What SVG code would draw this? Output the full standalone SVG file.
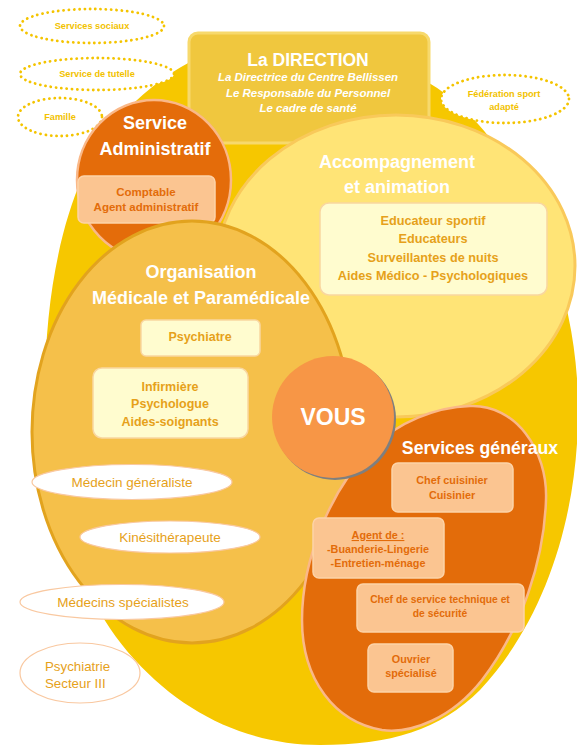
<svg xmlns="http://www.w3.org/2000/svg" width="577" height="745" viewBox="0 0 577 745">
<style>
text{font-family:"Liberation Sans",Arial,sans-serif}
.dot{fill:#fff;stroke:#F4C400;stroke-width:2.8;stroke-dasharray:0.1 5.2;stroke-linecap:round}
.dt{fill:#F2C200;font-weight:bold;font-size:9.2px;text-anchor:middle}
.wt{fill:#fff;font-weight:bold;text-anchor:middle}
.gold{fill:#E6A11A;font-weight:bold;text-anchor:middle}
.org{fill:#E36C0A;font-weight:bold;text-anchor:middle}
.cream{fill:#FFFCCF;stroke:#F9D6A0;stroke-width:1.5}
.peach{fill:#FBC591;stroke:#FDD3A8;stroke-width:1.5}
.wel{fill:#fff;stroke:#F9C8A0;stroke-width:1.2}
.wtxt{fill:#E6A11A;font-size:13.5px;text-anchor:middle}
.wtl{fill:#E6A11A;font-size:13.3px;text-anchor:start}
</style>
<rect width="577" height="745" fill="#fff"/>
<g id="fond"><path d="M300,48 C400,50 465,95 505,160 C555,240 580,330 578,420 C576,520 545,620 480,690 C440,730 390,745 320,745 C250,745 185,715 135,660 C75,595 45,490 45,390 C45,265 75,170 115,122 C140,95 165,75 190,62 C220,50 260,48 300,48 Z" fill="#F6C700"/></g>
<g id="services-sociaux"><ellipse class="dot" cx="92" cy="26" rx="72" ry="17"/><text class="dt" x="92" y="29">Services sociaux</text></g>
<g id="service-tutelle"><ellipse class="dot" cx="97" cy="74" rx="77" ry="16"/><text class="dt" x="97" y="77">Service de tutelle</text></g>
<g id="famille"><ellipse class="dot" cx="60" cy="117" rx="42" ry="19"/><text class="dt" x="60" y="120">Famille</text></g>
<g id="federation"><ellipse class="dot" cx="505" cy="99" rx="64" ry="24"/><text class="dt" x="504" y="97">Fédération sport</text><text class="dt" x="504" y="110">adapté</text></g>
<g id="direction">
<rect x="189" y="33" width="240" height="110" rx="9" fill="#F0C73E" stroke="#F7D96C" stroke-width="3"/>
<text class="wt" x="308" y="66" font-size="17.5">La DIRECTION</text>
<text class="wt" x="308" y="81" font-size="11.5" font-weight="normal" font-style="italic">La Directrice  du Centre  Bellissen</text>
<text class="wt" x="308" y="97" font-size="11.5" font-weight="normal" font-style="italic">Le Responsable du Personnel</text>
<text class="wt" x="308" y="112" font-size="11.5" font-weight="normal" font-style="italic">Le cadre de santé</text>
</g>
<g id="accompagnement">
<ellipse cx="396" cy="266" rx="179" ry="151" fill="#FFE476" stroke="#F9C95A" stroke-width="3"/>
<text class="wt" x="397" y="168" font-size="18">Accompagnement</text>
<text class="wt" x="397" y="193" font-size="18">et animation</text>
<rect class="cream" x="320" y="203" width="227" height="92" rx="9" fill="#FFF5C2"/>
<text class="gold" x="433" y="225" font-size="12.7">Educateur sportif</text>
<text class="gold" x="433" y="243" font-size="12.7">Educateurs</text>
<text class="gold" x="433" y="261.5" font-size="12.7">Surveillantes de nuits</text>
<text class="gold" x="433" y="280" font-size="12.7">Aides Médico - Psychologiques</text>
</g>
<g id="service-administratif">
<ellipse cx="154" cy="180" rx="77" ry="80" fill="#E46C0A" stroke="#FAB888" stroke-width="2.5"/>
<text class="wt" x="155" y="129" font-size="18">Service</text>
<text class="wt" x="155" y="155" font-size="18">Administratif</text>
<rect class="peach" x="78" y="176" width="137" height="47" rx="6"/>
<text class="org" x="146" y="196" font-size="11.5">Comptable</text>
<text class="org" x="146" y="211" font-size="11.5">Agent administratif</text>
</g>
<g id="organisation">
<ellipse cx="192" cy="432" rx="160" ry="211" fill="#F5C04A" stroke="#E2A31E" stroke-width="3"/>
<text class="wt" x="201" y="278" font-size="18">Organisation</text>
<text class="wt" x="201" y="304" font-size="18">Médicale et Paramédicale</text>
<rect class="cream" x="141" y="320" width="119" height="36" rx="5"/>
<text class="gold" x="200" y="340.5" font-size="12.5">Psychiatre</text>
<rect class="cream" x="93" y="368" width="155" height="70" rx="9"/>
<text class="gold" x="170" y="390.5" font-size="12.5">Infirmière</text>
<text class="gold" x="170" y="407.5" font-size="12.5">Psychologue</text>
<text class="gold" x="170" y="425.5" font-size="12.5">Aides-soignants</text>
</g>
<g id="medecin-generaliste"><ellipse class="wel" cx="132" cy="482" rx="100" ry="17.5"/><text class="wtxt" x="132" y="486.5">Médecin généraliste</text></g>
<g id="kinesitherapeute"><ellipse class="wel" cx="170" cy="537" rx="90" ry="16"/><text class="wtxt" x="170" y="541.5">Kinésithérapeute</text></g>
<g id="medecins-specialistes"><ellipse class="wel" cx="122" cy="602" rx="102" ry="17.5"/><text class="wtxt" x="123" y="606.5">Médecins spécialistes</text></g>
<g id="psychiatrie-secteur"><ellipse class="wel" cx="80" cy="673" rx="60" ry="30"/><text class="wtl" x="45" y="671">Psychiatrie</text><text class="wtl" x="45" y="688">Secteur III</text></g>
<g id="services-generaux">
<path d="M470,406 C515,404 548,450 546,500 C544,560 522,628 482,680 C452,718 412,734 382,730 C335,722 302,680 302,620 C302,560 330,490 372,448 C398,422 436,407 470,406 Z" fill="#E36C0A" stroke="#FAB888" stroke-width="2.5"/>
<text class="wt" x="480" y="453.5" font-size="17.7">Services généraux</text>
<rect class="peach" x="392" y="463" width="121" height="49" rx="6"/>
<text class="org" x="452" y="484" font-size="10.8">Chef cuisinier</text>
<text class="org" x="452" y="499" font-size="10.8">Cuisinier</text>
<rect class="peach" x="313" y="518" width="131" height="60" rx="6"/>
<text class="org" x="378" y="539" font-size="10.8" text-decoration="underline">Agent de :</text>
<text class="org" x="378" y="553" font-size="10.8">-Buanderie-Lingerie</text>
<text class="org" x="378" y="567" font-size="10.8">-Entretien-ménage</text>
<rect class="peach" x="357" y="584" width="167" height="48" rx="6"/>
<text class="org" x="440" y="603" font-size="10.3">Chef de service technique et</text>
<text class="org" x="440" y="617" font-size="10.3">de sécurité</text>
<rect class="peach" x="368" y="644" width="85" height="48" rx="6"/>
<text class="org" x="411" y="663" font-size="10.8">Ouvrier</text>
<text class="org" x="411" y="677" font-size="10.8">spécialisé</text>
</g>
<g id="vous">
<circle cx="335" cy="419" r="61" fill="#7F7F7F"/>
<circle cx="333" cy="417" r="61" fill="#F79646"/>
<text class="wt" x="333" y="425" font-size="23">VOUS</text>
</g>
<g id="connecteurs"/>
</svg>
